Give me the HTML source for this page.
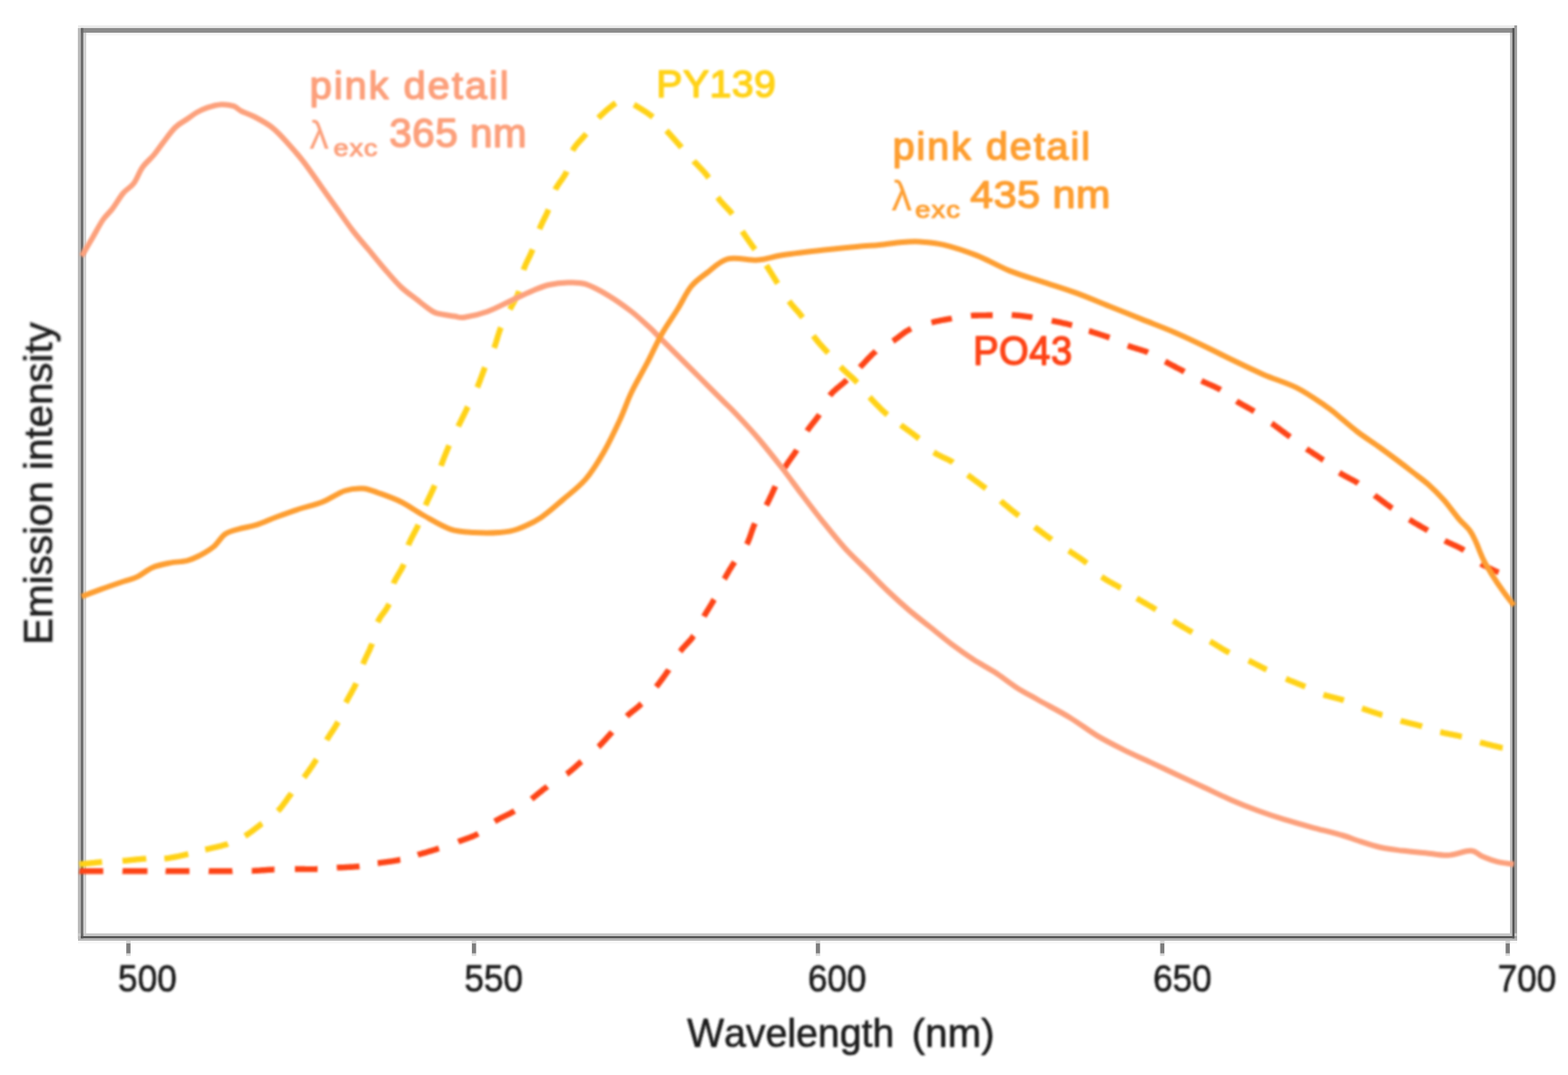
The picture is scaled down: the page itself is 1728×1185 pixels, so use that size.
<!DOCTYPE html>
<html><head><meta charset="utf-8"><title>Emission spectra</title>
<style>
html,body{margin:0;padding:0;background:#fff;}
body{width:1728px;height:1185px;overflow:hidden;}
svg{display:block;}
text{font-family:"Liberation Sans", Arial, Helvetica, sans-serif;font-kerning:none;}
</style></head>
<body>
<svg width="1728" height="1185" viewBox="0 0 1728 1185">
<defs><filter id="b" x="0" y="0" width="1728" height="1185" filterUnits="userSpaceOnUse"><feGaussianBlur stdDeviation="1.1"/></filter></defs>
<rect width="1728" height="1185" fill="#fff"/>
<rect x="86" y="27.8" width="1586" height="3.1" fill="#ebebeb"/>
<rect x="86" y="36.1" width="1586" height="3.1" fill="#f6f6f6"/>
<rect x="85.8" y="31" width="3.2" height="1004" fill="#b8b8b8"/>
<rect x="91.8" y="36" width="3.3" height="995" fill="#d2d2d2"/>
<rect x="1664" y="36" width="2.9" height="995" fill="#c2c2c2"/>
<rect x="1668.8" y="28" width="3.0" height="1010" fill="#9c9c9c"/>
<rect x="86" y="1028.8" width="1586" height="3.1" fill="#c8c8c8"/>
<rect x="86" y="1034.4" width="1586" height="2.6" fill="#b9b9b9"/>
<rect x="86" y="1037" width="1586" height="3" fill="#f7f7f7"/>
<rect x="89.1" y="30.9" width="1579.7" height="5.2" fill="#8c8c8c"/>
<rect x="89.1" y="30.9" width="2.7" height="1003.5" fill="#666"/>
<rect x="1666.6" y="30.9" width="2.4" height="1003.5" fill="#555"/>
<rect x="89.1" y="1031.9" width="1579.7" height="2.5" fill="#555"/>
<rect x="139.00" y="1037" width="5" height="16.6" fill="#d6d6d6"/>
<rect x="139.30" y="1039.9" width="4.4" height="10.9" fill="#7c7c7c"/>
<rect x="519.85" y="1037" width="5" height="16.6" fill="#d6d6d6"/>
<rect x="520.15" y="1039.9" width="4.4" height="10.9" fill="#7c7c7c"/>
<rect x="898.90" y="1037" width="5" height="16.6" fill="#d6d6d6"/>
<rect x="899.20" y="1039.9" width="4.4" height="10.9" fill="#7c7c7c"/>
<rect x="1278.40" y="1037" width="5" height="16.6" fill="#d6d6d6"/>
<rect x="1278.70" y="1039.9" width="4.4" height="10.9" fill="#7c7c7c"/>
<rect x="1659.10" y="1037" width="5" height="16.6" fill="#d6d6d6"/>
<rect x="1659.40" y="1039.9" width="4.4" height="10.9" fill="#7c7c7c"/>
<g filter="url(#b)">
<path d="M87.5,960.2 L88.1,960.3 L88.8,960.2 L89.6,960.2 L90.4,960.3 L91.3,960.2 L92.3,960.2 L93.4,960.2 L94.5,960.3 L95.6,960.2 L96.8,960.2 L98.1,960.3 L99.3,960.2 L100.6,960.2 L101.8,960.2 L103.1,960.2 L104.4,960.2 L105.7,960.2 L106.9,960.2 L108.2,960.2 L109.4,960.2 L110.5,960.2 L111.7,960.2 L112.7,960.2 L113.8,960.2 L113.8,960.2 M135.0,960.2 L136.0,960.3 L137.1,960.2 L138.2,960.2 L139.3,960.3 L140.4,960.2 L141.6,960.2 L142.8,960.2 L144.0,960.3 L145.2,960.2 L146.4,960.2 L147.6,960.3 L148.8,960.2 L150.0,960.2 L151.3,960.2 L152.5,960.2 L153.7,960.2 L154.8,960.2 L156.0,960.2 L157.2,960.2 L158.3,960.2 L159.4,960.2 L160.5,960.2 L161.5,960.2 L162.5,960.2 L162.5,960.2 M182.5,960.2 L183.5,960.3 L184.5,960.2 L185.5,960.2 L186.6,960.3 L187.6,960.2 L188.7,960.2 L189.8,960.2 L191.0,960.3 L192.1,960.2 L193.2,960.2 L194.4,960.3 L195.5,960.2 L196.7,960.2 L197.9,960.2 L199.0,960.2 L200.1,960.2 L201.3,960.2 L202.4,960.2 L203.5,960.2 L204.6,960.2 L205.7,960.2 L206.7,960.2 L207.7,960.2 L208.8,960.2 L208.8,960.2 M230.0,960.2 L231.0,960.3 L232.0,960.3 L233.1,960.3 L234.1,960.3 L235.2,960.3 L236.3,960.3 L237.4,960.3 L238.6,960.3 L239.7,960.3 L240.8,960.3 L242.0,960.3 L243.1,960.3 L244.3,960.3 L245.4,960.3 L246.6,960.3 L247.7,960.3 L248.8,960.3 L249.9,960.3 L251.0,960.3 L252.1,960.3 L253.2,960.3 L254.2,960.3 L255.2,960.3 L256.2,960.2 L256.2,960.2 M277.5,960.0 L278.5,960.0 L279.5,959.9 L280.5,959.9 L281.5,959.8 L282.5,959.8 L283.5,959.7 L284.6,959.6 L285.6,959.6 L286.7,959.5 L287.8,959.4 L288.8,959.3 L289.9,959.3 L291.0,959.2 L292.1,959.1 L293.1,959.0 L294.2,959.0 L295.3,958.9 L296.3,958.8 L297.4,958.8 L298.4,958.7 L299.5,958.6 L300.5,958.6 L301.5,958.5 L302.5,958.5 L302.5,958.5 M325.0,958.0 L326.0,958.0 L327.0,958.0 L328.0,958.0 L329.1,958.0 L330.1,958.0 L331.2,958.0 L332.2,958.0 L333.3,958.0 L334.4,958.0 L335.4,958.0 L336.5,958.1 L337.6,958.1 L338.7,958.1 L339.7,958.1 L340.8,958.1 L341.9,958.1 L342.9,958.1 L344.0,958.1 L345.0,958.1 L346.0,958.1 L347.0,958.1 L348.0,958.1 L349.0,958.0 L350.0,958.0 L350.0,958.0 M371.2,956.5 L372.2,956.4 L373.2,956.4 L374.2,956.3 L375.3,956.3 L376.3,956.2 L377.4,956.2 L378.4,956.1 L379.5,956.1 L380.6,956.0 L381.7,956.0 L382.7,955.9 L383.8,955.9 L384.9,955.8 L386.0,955.8 L387.1,955.7 L388.1,955.6 L389.2,955.6 L390.3,955.5 L391.3,955.4 L392.3,955.4 L393.3,955.3 L394.3,955.2 L395.3,955.1 L396.2,955.0 L396.2,955.0 M416.2,951.5 L417.2,951.4 L418.2,951.2 L419.2,951.1 L420.2,950.9 L421.2,950.8 L422.3,950.6 L423.3,950.5 L424.4,950.3 L425.5,950.2 L426.6,950.1 L427.7,949.9 L428.8,949.8 L429.8,949.6 L430.9,949.5 L432.0,949.3 L433.1,949.2 L434.2,949.0 L435.2,948.8 L436.3,948.7 L437.3,948.5 L438.3,948.3 L439.3,948.1 L440.3,947.9 L441.2,947.8 L441.2,947.8 M460.4,942.3 L461.2,942.0 L462.1,941.7 L463.0,941.5 L464.0,941.2 L464.9,940.9 L465.8,940.7 L466.7,940.4 L467.7,940.1 L468.6,939.9 L469.6,939.6 L470.5,939.3 L471.5,939.0 L472.4,938.7 L473.4,938.5 L474.3,938.2 L475.3,937.9 L476.2,937.6 L477.2,937.3 L478.2,937.0 L479.1,936.7 L480.0,936.4 L481.0,936.1 L481.9,935.8 L482.8,935.5 L483.8,935.2 L483.8,935.2 M505.0,927.8 L505.9,927.4 L506.8,927.1 L507.7,926.8 L508.7,926.4 L509.6,926.1 L510.5,925.8 L511.5,925.4 L512.4,925.1 L513.3,924.8 L514.3,924.5 L515.2,924.1 L516.1,923.8 L517.1,923.4 L518.0,923.1 L518.9,922.7 L519.9,922.4 L520.8,922.0 L521.7,921.6 L522.6,921.2 L523.5,920.8 L524.4,920.4 L525.3,919.9 L526.1,919.5 L527.0,919.0 L527.0,919.0 M545.2,905.5 L546.0,905.0 L546.8,904.5 L547.7,904.0 L548.5,903.5 L549.4,903.0 L550.3,902.6 L551.2,902.1 L552.0,901.6 L552.9,901.2 L553.8,900.8 L554.7,900.3 L555.6,899.9 L556.5,899.5 L557.4,899.0 L558.3,898.6 L559.2,898.2 L560.1,897.7 L561.0,897.3 L561.9,896.8 L562.7,896.4 L563.6,895.9 L564.5,895.5 L565.3,895.0 L566.2,894.5 L567.0,894.0 L567.0,894.0 M585.8,880.8 L586.5,880.2 L587.2,879.6 L588.0,879.1 L588.7,878.5 L589.4,877.9 L590.1,877.3 L590.8,876.8 L591.5,876.2 L592.2,875.6 L592.9,875.1 L593.6,874.5 L594.3,873.9 L595.0,873.3 L595.8,872.8 L596.5,872.2 L597.2,871.6 L597.9,871.0 L598.6,870.4 L599.4,869.9 L600.1,869.3 L600.9,868.7 L601.7,868.1 L602.5,867.6 L603.2,867.0 L603.2,867.0 M624.5,853.2 L625.3,852.7 L626.0,852.1 L626.8,851.5 L627.5,851.0 L628.2,850.4 L628.9,849.9 L629.5,849.3 L630.2,848.8 L630.9,848.2 L631.5,847.6 L632.1,847.1 L632.8,846.5 L633.4,846.0 L634.1,845.4 L634.7,844.8 L635.3,844.3 L636.0,843.7 L636.6,843.1 L637.3,842.5 L638.0,841.9 L638.6,841.3 L639.3,840.7 L640.0,840.1 L640.8,839.5 L640.8,839.5 M659.5,823.2 L660.2,822.6 L660.9,821.9 L661.5,821.2 L662.2,820.6 L662.8,819.9 L663.5,819.2 L664.1,818.5 L664.7,817.9 L665.3,817.2 L666.0,816.5 L666.6,815.9 L667.2,815.2 L667.8,814.5 L668.4,813.9 L668.9,813.2 L669.5,812.5 L670.1,811.8 L670.8,811.2 L671.4,810.5 L672.0,809.8 L672.6,809.1 L673.2,808.4 L673.9,807.7 L674.5,807.0 L674.5,807.0 M690.8,789.5 L691.4,788.9 L692.1,788.2 L692.8,787.6 L693.5,787.0 L694.1,786.5 L694.8,785.9 L695.5,785.4 L696.2,784.8 L696.8,784.3 L697.5,783.8 L698.2,783.2 L698.9,782.7 L699.6,782.2 L700.2,781.6 L700.9,781.1 L701.6,780.6 L702.3,780.0 L702.9,779.5 L703.6,778.9 L704.3,778.3 L705.0,777.7 L705.6,777.1 L706.3,776.4 L707.0,775.8 L707.0,775.8 M723.2,757.0 L723.9,756.2 L724.5,755.4 L725.1,754.7 L725.7,753.9 L726.3,753.1 L726.9,752.3 L727.5,751.6 L728.1,750.8 L728.6,750.0 L729.2,749.3 L729.8,748.5 L730.4,747.7 L730.9,746.9 L731.5,746.2 L732.0,745.4 L732.6,744.6 L733.2,743.8 L733.7,743.0 L734.3,742.2 L734.8,741.4 L735.4,740.7 L735.9,739.9 L736.5,739.1 L737.0,738.2 L737.0,738.2 M749.5,718.2 L750.1,717.5 L750.7,716.7 L751.3,716.0 L751.9,715.2 L752.5,714.5 L753.2,713.8 L753.8,713.1 L754.5,712.4 L755.1,711.7 L755.8,711.0 L756.4,710.3 L757.1,709.6 L757.7,708.9 L758.4,708.2 L759.0,707.5 L759.7,706.8 L760.3,706.1 L761.0,705.3 L761.6,704.6 L762.2,703.9 L762.8,703.1 L763.4,702.3 L763.9,701.5 L764.5,700.8 L764.5,700.8 M775.8,679.5 L776.2,678.7 L776.7,677.9 L777.2,677.1 L777.6,676.3 L778.1,675.5 L778.6,674.7 L779.0,674.0 L779.5,673.2 L780.0,672.5 L780.4,671.7 L780.9,671.0 L781.4,670.2 L781.8,669.5 L782.3,668.7 L782.8,667.9 L783.2,667.2 L783.7,666.4 L784.2,665.6 L784.7,664.9 L785.1,664.1 L785.6,663.3 L786.1,662.4 L786.5,661.6 L787.0,660.8 L787.0,660.8 M798.2,638.2 L798.7,637.4 L799.2,636.6 L799.6,635.7 L800.1,634.9 L800.6,634.1 L801.0,633.3 L801.5,632.5 L801.9,631.8 L802.4,631.0 L802.8,630.2 L803.3,629.4 L803.7,628.7 L804.2,627.9 L804.7,627.2 L805.1,626.4 L805.6,625.7 L806.1,624.9 L806.5,624.2 L807.0,623.4 L807.5,622.6 L808.0,621.9 L808.5,621.1 L809.0,620.3 L809.5,619.5 L809.5,619.5 M823.0,600.0 L823.5,599.1 L823.9,598.2 L824.3,597.3 L824.7,596.3 L825.1,595.4 L825.5,594.4 L825.8,593.5 L826.2,592.5 L826.6,591.5 L826.9,590.5 L827.2,589.5 L827.6,588.5 L827.9,587.5 L828.2,586.5 L828.6,585.6 L828.9,584.6 L829.3,583.6 L829.6,582.6 L830.0,581.7 L830.3,580.7 L830.7,579.8 L831.1,578.8 L831.6,577.9 L832.0,577.0 L832.0,577.0 M844.5,557.0 L845.0,556.1 L845.4,555.3 L845.9,554.4 L846.3,553.5 L846.7,552.7 L847.2,551.8 L847.6,550.9 L848.0,550.0 L848.4,549.2 L848.8,548.3 L849.3,547.4 L849.7,546.5 L850.1,545.6 L850.5,544.7 L850.9,543.8 L851.3,543.0 L851.7,542.1 L852.1,541.2 L852.5,540.3 L852.9,539.5 L853.3,538.6 L853.7,537.7 L854.1,536.9 L854.5,536.0 L854.5,536.0 M864.5,516.0 L865.0,515.2 L865.5,514.3 L866.0,513.5 L866.6,512.7 L867.1,511.9 L867.7,511.0 L868.2,510.2 L868.8,509.4 L869.4,508.5 L870.0,507.7 L870.6,506.9 L871.2,506.1 L871.7,505.2 L872.3,504.4 L872.9,503.6 L873.5,502.7 L874.1,501.9 L874.7,501.1 L875.3,500.2 L875.8,499.4 L876.4,498.5 L876.9,497.7 L877.5,496.9 L878.0,496.0 L878.0,496.0 M889.5,475.0 L890.0,474.2 L890.6,473.4 L891.1,472.6 L891.7,471.9 L892.2,471.1 L892.8,470.4 L893.4,469.6 L893.9,468.9 L894.5,468.2 L895.1,467.4 L895.7,466.7 L896.2,466.0 L896.8,465.3 L897.4,464.6 L898.0,463.8 L898.6,463.1 L899.1,462.4 L899.7,461.6 L900.3,460.9 L900.8,460.1 L901.4,459.4 L901.9,458.6 L902.5,457.8 L903.0,457.0 L903.0,457.0 M914.5,436.0 L915.1,435.2 L915.8,434.5 L916.4,433.8 L917.1,433.0 L917.8,432.3 L918.5,431.6 L919.2,430.9 L920.0,430.3 L920.7,429.6 L921.5,428.9 L922.2,428.3 L923.0,427.6 L923.8,427.0 L924.5,426.4 L925.3,425.7 L926.1,425.1 L926.8,424.5 L927.6,423.8 L928.4,423.2 L929.1,422.6 L929.9,421.9 L930.6,421.3 L931.3,420.6 L932.0,420.0 L932.7,419.4 L933.4,418.7 L933.4,418.7 M947.8,404.8 L948.4,404.1 L949.1,403.4 L949.8,402.6 L950.6,401.9 L951.3,401.1 L952.0,400.4 L952.7,399.6 L953.4,398.9 L954.1,398.1 L954.9,397.3 L955.6,396.5 L956.3,395.8 L957.0,395.0 L957.8,394.2 L958.5,393.5 L959.3,392.7 L960.0,392.0 L960.7,391.2 L961.5,390.5 L962.2,389.8 L963.0,389.2 L963.7,388.5 L964.5,387.9 L965.2,387.2 L965.2,387.2 M984.0,376.0 L984.8,375.5 L985.6,374.9 L986.4,374.4 L987.2,373.8 L988.0,373.2 L988.9,372.6 L989.7,372.0 L990.5,371.3 L991.3,370.7 L992.1,370.1 L992.9,369.5 L993.8,368.8 L994.6,368.2 L995.4,367.6 L996.3,367.0 L997.1,366.4 L997.9,365.8 L998.8,365.3 L999.6,364.7 L1000.5,364.2 L1001.4,363.7 L1002.2,363.2 L1003.1,362.7 L1004.0,362.2 L1004.0,362.2 M1026.5,355.5 L1027.4,355.3 L1028.4,355.0 L1029.3,354.8 L1030.3,354.6 L1031.2,354.4 L1032.2,354.2 L1033.1,354.0 L1034.1,353.8 L1035.0,353.6 L1036.0,353.4 L1036.9,353.2 L1037.8,353.0 L1038.8,352.8 L1039.7,352.7 L1040.7,352.5 L1041.6,352.3 L1042.5,352.1 L1043.5,352.0 L1044.4,351.8 L1045.3,351.6 L1046.3,351.5 L1047.2,351.3 L1048.1,351.2 L1049.0,351.0 L1049.0,351.0 M1070.0,348.0 L1070.9,347.9 L1071.9,347.9 L1072.9,347.8 L1073.9,347.8 L1074.9,347.7 L1075.9,347.7 L1076.9,347.7 L1077.9,347.6 L1078.9,347.6 L1079.9,347.6 L1081.0,347.6 L1082.0,347.6 L1083.0,347.6 L1084.1,347.6 L1085.1,347.6 L1086.1,347.6 L1087.1,347.6 L1088.1,347.5 L1089.1,347.5 L1090.1,347.5 L1091.1,347.5 L1092.1,347.5 L1093.1,347.5 L1094.0,347.5 L1094.0,347.5 M1115.0,347.2 L1115.9,347.3 L1116.8,347.4 L1117.8,347.4 L1118.7,347.5 L1119.7,347.6 L1120.6,347.7 L1121.6,347.7 L1122.5,347.8 L1123.5,347.9 L1124.4,348.0 L1125.4,348.1 L1126.4,348.2 L1127.3,348.4 L1128.3,348.5 L1129.3,348.6 L1130.2,348.7 L1131.2,348.8 L1132.1,349.0 L1133.1,349.1 L1134.0,349.2 L1135.0,349.4 L1135.9,349.5 L1136.8,349.6 L1137.8,349.8 L1137.8,349.8 M1159.0,353.5 L1159.9,353.7 L1160.8,353.9 L1161.8,354.1 L1162.7,354.2 L1163.7,354.4 L1164.6,354.6 L1165.6,354.8 L1166.6,355.0 L1167.5,355.2 L1168.5,355.4 L1169.5,355.6 L1170.4,355.8 L1171.4,356.1 L1172.3,356.3 L1173.3,356.5 L1174.2,356.7 L1175.2,356.9 L1176.1,357.1 L1177.1,357.4 L1178.0,357.6 L1178.9,357.8 L1179.8,358.0 L1180.6,358.3 L1181.5,358.5 L1181.5,358.5 M1200.0,364.8 L1200.9,365.0 L1201.8,365.3 L1202.7,365.6 L1203.6,365.9 L1204.5,366.2 L1205.5,366.5 L1206.4,366.8 L1207.4,367.1 L1208.3,367.4 L1209.3,367.7 L1210.3,368.0 L1211.3,368.3 L1212.3,368.7 L1213.3,369.0 L1214.2,369.3 L1215.2,369.6 L1216.2,369.9 L1217.2,370.3 L1218.1,370.6 L1219.1,370.9 L1220.0,371.2 L1220.9,371.6 L1221.9,371.9 L1222.8,372.2 L1222.8,372.2 M1242.8,381.0 L1243.6,381.3 L1244.5,381.7 L1245.5,382.0 L1246.4,382.3 L1247.3,382.6 L1248.3,382.9 L1249.2,383.2 L1250.2,383.5 L1251.2,383.8 L1252.1,384.1 L1253.1,384.4 L1254.1,384.7 L1255.0,385.0 L1256.0,385.3 L1257.0,385.6 L1257.9,385.9 L1258.9,386.2 L1259.8,386.5 L1260.8,386.8 L1261.7,387.1 L1262.6,387.5 L1263.5,387.8 L1264.4,388.1 L1265.2,388.5 L1265.2,388.5 M1284.0,398.5 L1284.8,398.9 L1285.7,399.4 L1286.6,399.9 L1287.4,400.3 L1288.3,400.8 L1289.2,401.3 L1290.1,401.7 L1291.0,402.2 L1291.9,402.7 L1292.8,403.2 L1293.7,403.6 L1294.6,404.1 L1295.5,404.6 L1296.4,405.1 L1297.4,405.6 L1298.3,406.0 L1299.2,406.5 L1300.1,407.0 L1300.9,407.5 L1301.8,407.9 L1302.7,408.4 L1303.6,408.9 L1304.4,409.3 L1305.2,409.8 L1305.2,409.8 M1324.0,419.8 L1324.8,420.2 L1325.7,420.6 L1326.6,421.0 L1327.4,421.4 L1328.3,421.8 L1329.2,422.2 L1330.1,422.6 L1331.0,423.0 L1332.0,423.4 L1332.9,423.8 L1333.8,424.2 L1334.7,424.6 L1335.6,425.0 L1336.5,425.4 L1337.4,425.8 L1338.4,426.2 L1339.3,426.7 L1340.1,427.1 L1341.0,427.5 L1341.9,427.9 L1342.8,428.4 L1343.6,428.8 L1344.4,429.3 L1345.2,429.8 L1345.2,429.8 M1362.8,442.2 L1363.5,442.7 L1364.3,443.2 L1365.1,443.7 L1365.9,444.2 L1366.7,444.6 L1367.5,445.1 L1368.3,445.5 L1369.1,446.0 L1369.9,446.5 L1370.7,446.9 L1371.5,447.3 L1372.3,447.8 L1373.2,448.2 L1374.0,448.7 L1374.8,449.2 L1375.6,449.6 L1376.5,450.1 L1377.3,450.5 L1378.1,451.0 L1378.9,451.5 L1379.8,452.0 L1380.6,452.5 L1381.4,453.0 L1382.2,453.5 L1382.2,453.5 M1401.4,466.7 L1402.2,467.2 L1403.1,467.8 L1403.9,468.4 L1404.7,469.0 L1405.4,469.5 L1406.2,470.1 L1407.0,470.7 L1407.8,471.3 L1408.6,471.8 L1409.4,472.4 L1410.2,473.0 L1410.9,473.6 L1411.7,474.1 L1412.5,474.7 L1413.3,475.3 L1414.0,475.8 L1414.8,476.4 L1415.6,477.0 L1416.3,477.6 L1417.1,478.1 L1417.9,478.7 L1418.7,479.3 L1419.4,479.9 L1420.2,480.4 L1421.0,481.0 L1421.8,481.6 L1421.8,481.6 M1439.8,494.8 L1440.5,495.3 L1441.3,495.8 L1442.1,496.4 L1442.9,496.9 L1443.7,497.4 L1444.5,497.9 L1445.3,498.4 L1446.0,499.0 L1446.8,499.5 L1447.6,500.0 L1448.4,500.5 L1449.2,501.0 L1450.0,501.5 L1450.8,502.0 L1451.6,502.5 L1452.3,503.0 L1453.1,503.6 L1453.9,504.1 L1454.7,504.6 L1455.4,505.1 L1456.2,505.6 L1457.0,506.2 L1457.7,506.7 L1458.5,507.2 L1458.5,507.2 M1476.0,521.0 L1476.8,521.5 L1477.6,522.0 L1478.4,522.5 L1479.2,523.0 L1480.0,523.5 L1480.9,523.9 L1481.7,524.4 L1482.5,524.8 L1483.4,525.3 L1484.2,525.7 L1485.1,526.2 L1485.9,526.6 L1486.8,527.1 L1487.6,527.5 L1488.5,528.0 L1489.3,528.4 L1490.2,528.9 L1491.0,529.3 L1491.9,529.8 L1492.7,530.3 L1493.5,530.7 L1494.4,531.2 L1495.2,531.7 L1496.0,532.2 L1496.8,532.8 L1496.8,532.8 M1514.8,546.0 L1515.5,546.6 L1516.3,547.1 L1517.1,547.7 L1517.9,548.3 L1518.7,548.9 L1519.4,549.5 L1520.2,550.0 L1521.0,550.6 L1521.8,551.2 L1522.6,551.8 L1523.3,552.4 L1524.1,553.0 L1524.9,553.5 L1525.7,554.1 L1526.5,554.7 L1527.2,555.3 L1528.0,555.8 L1528.8,556.4 L1529.6,557.0 L1530.4,557.5 L1531.2,558.1 L1531.9,558.6 L1532.7,559.2 L1533.5,559.8 L1534.3,560.3 L1534.3,560.3 M1553.1,572.8 L1553.9,573.3 L1554.8,573.8 L1555.7,574.3 L1556.6,574.9 L1557.4,575.4 L1558.3,575.9 L1559.2,576.5 L1560.1,577.0 L1561.1,577.5 L1562.0,578.1 L1562.9,578.6 L1563.8,579.1 L1564.7,579.6 L1565.6,580.2 L1566.5,580.7 L1567.4,581.2 L1568.3,581.7 L1569.2,582.2 L1570.1,582.7 L1570.9,583.2 L1571.8,583.8 L1572.7,584.3 L1573.5,584.8 L1573.5,584.8 M1592.2,596.0 L1593.1,596.5 L1593.9,596.9 L1594.8,597.3 L1595.7,597.8 L1596.6,598.2 L1597.5,598.6 L1598.3,599.0 L1599.3,599.4 L1600.2,599.8 L1601.1,600.3 L1602.0,600.7 L1602.9,601.1 L1603.8,601.5 L1604.7,601.9 L1605.6,602.3 L1606.5,602.8 L1607.4,603.2 L1608.3,603.7 L1609.2,604.1 L1610.1,604.6 L1611.0,605.1 L1611.8,605.6 L1612.7,606.1 L1613.5,606.6 L1613.5,606.6 M1632.0,621.4 L1632.9,622.0 L1633.9,622.5 L1634.9,623.1 L1636.0,623.7 L1637.1,624.2 L1638.2,624.8 L1639.3,625.4 L1640.5,625.9 L1641.7,626.5 L1642.8,627.0 L1644.0,627.6 L1645.2,628.1 L1646.3,628.6 L1647.4,629.2 L1648.5,629.6 L1649.6,630.1 L1650.6,630.6 L1651.6,631.0 L1651.6,631.0" fill="none" stroke="#fd4416" stroke-width="6.4"/>
<path d="M87.5,952.8 L88.1,952.7 L88.7,952.6 L89.4,952.5 L90.2,952.5 L91.1,952.4 L92.1,952.3 L93.0,952.2 L94.1,952.1 L95.2,951.9 L96.3,951.8 L97.4,951.7 L98.6,951.6 L99.8,951.5 L101.0,951.3 L102.2,951.2 L103.4,951.1 L104.6,951.0 L105.8,950.8 L107.0,950.7 L108.2,950.6 L109.3,950.5 L110.4,950.4 L111.5,950.3 L112.5,950.2 L112.5,950.2 M135.0,949.0 L136.0,948.9 L137.1,948.8 L138.1,948.7 L139.2,948.6 L140.3,948.5 L141.4,948.4 L142.6,948.3 L143.7,948.2 L144.8,948.0 L146.0,947.9 L147.1,947.8 L148.3,947.7 L149.4,947.5 L150.6,947.4 L151.7,947.3 L152.8,947.2 L153.9,947.1 L155.0,947.0 L156.1,946.9 L157.2,946.8 L158.2,946.7 L159.3,946.6 L160.3,946.6 L161.2,946.5 L161.2,946.5 M181.2,946.5 L182.2,946.4 L183.2,946.3 L184.3,946.1 L185.4,946.0 L186.4,945.8 L187.5,945.6 L188.7,945.4 L189.8,945.2 L191.0,945.0 L192.1,944.8 L193.3,944.5 L194.5,944.3 L195.6,944.1 L196.8,943.8 L197.9,943.6 L199.1,943.4 L200.2,943.1 L201.3,942.9 L202.4,942.6 L203.5,942.4 L204.5,942.2 L205.6,941.9 L206.5,941.7 L207.5,941.5 L207.5,941.5 M226.2,936.5 L227.2,936.3 L228.1,936.0 L229.1,935.8 L230.1,935.6 L231.2,935.3 L232.2,935.1 L233.3,934.8 L234.4,934.6 L235.4,934.4 L236.5,934.1 L237.6,933.9 L238.8,933.6 L239.9,933.4 L241.0,933.1 L242.1,932.8 L243.1,932.6 L244.2,932.3 L245.3,932.0 L246.3,931.7 L247.4,931.5 L248.4,931.2 L249.4,930.9 L250.3,930.6 L251.2,930.2 L251.2,930.2 M270.0,921.5 L270.8,921.0 L271.6,920.5 L272.4,920.0 L273.1,919.5 L273.9,919.0 L274.7,918.4 L275.5,917.9 L276.3,917.3 L277.1,916.7 L277.9,916.1 L278.7,915.5 L279.5,914.9 L280.2,914.3 L281.0,913.7 L281.8,913.1 L282.6,912.5 L283.4,911.9 L284.2,911.3 L284.9,910.7 L285.7,910.1 L286.5,909.5 L287.2,908.9 L288.0,908.3 L288.8,907.8 L288.8,907.8 M306.2,894.0 L306.9,893.3 L307.6,892.6 L308.3,891.8 L308.9,891.1 L309.6,890.3 L310.2,889.5 L310.8,888.7 L311.5,887.9 L312.1,887.0 L312.7,886.2 L313.4,885.3 L314.0,884.5 L314.6,883.6 L315.2,882.8 L315.8,881.9 L316.4,881.1 L317.0,880.2 L317.6,879.4 L318.2,878.5 L318.9,877.7 L319.5,876.9 L320.1,876.1 L320.7,875.3 L321.2,874.5 L321.2,874.5 M335.0,857.0 L335.6,856.2 L336.2,855.4 L336.7,854.6 L337.3,853.8 L337.9,853.0 L338.5,852.2 L339.1,851.4 L339.7,850.6 L340.3,849.7 L340.9,848.9 L341.4,848.1 L342.0,847.2 L342.6,846.4 L343.2,845.5 L343.8,844.7 L344.4,843.9 L344.9,843.0 L345.5,842.1 L346.0,841.3 L346.6,840.4 L347.2,839.6 L347.7,838.7 L348.2,837.9 L348.8,837.0 L348.8,837.0 M360.0,815.8 L360.5,814.9 L361.0,814.0 L361.5,813.2 L362.1,812.4 L362.6,811.5 L363.1,810.7 L363.7,809.9 L364.2,809.0 L364.8,808.2 L365.3,807.4 L365.9,806.6 L366.4,805.8 L367.0,804.9 L367.5,804.1 L368.0,803.3 L368.6,802.5 L369.1,801.6 L369.6,800.8 L370.1,800.0 L370.6,799.1 L371.1,798.3 L371.6,797.5 L372.0,796.6 L372.5,795.8 L372.5,795.8 M381.2,774.5 L381.7,773.6 L382.1,772.7 L382.6,771.8 L383.0,771.0 L383.5,770.1 L384.0,769.2 L384.5,768.3 L385.0,767.4 L385.5,766.5 L386.0,765.6 L386.5,764.8 L387.0,763.9 L387.5,763.0 L388.0,762.1 L388.4,761.2 L388.9,760.3 L389.4,759.4 L389.9,758.6 L390.4,757.7 L390.8,756.8 L391.3,755.9 L391.7,755.0 L392.1,754.1 L392.5,753.2 L392.5,753.2 M400.0,732.0 L400.4,731.1 L400.8,730.2 L401.2,729.3 L401.6,728.3 L402.0,727.4 L402.4,726.5 L402.8,725.6 L403.3,724.6 L403.7,723.7 L404.2,722.8 L404.6,721.8 L405.1,720.9 L405.5,720.0 L406.0,719.0 L406.4,718.1 L406.9,717.1 L407.3,716.2 L407.7,715.2 L408.1,714.3 L408.5,713.3 L408.9,712.4 L409.3,711.4 L409.7,710.5 L410.0,709.5 L410.0,709.5 M416.2,685.8 L416.7,684.8 L417.1,684.0 L417.6,683.1 L418.1,682.2 L418.6,681.4 L419.1,680.5 L419.7,679.7 L420.2,678.9 L420.8,678.1 L421.4,677.3 L422.0,676.5 L422.6,675.7 L423.2,674.9 L423.8,674.1 L424.3,673.3 L424.9,672.5 L425.5,671.7 L426.0,670.8 L426.5,670.0 L427.0,669.2 L427.5,668.3 L428.0,667.5 L428.4,666.6 L428.8,665.8 L428.8,665.8 M433.8,643.2 L434.1,642.3 L434.5,641.4 L434.9,640.5 L435.3,639.6 L435.8,638.7 L436.3,637.8 L436.8,637.0 L437.3,636.1 L437.8,635.2 L438.3,634.3 L438.8,633.4 L439.4,632.5 L439.9,631.7 L440.4,630.8 L441.0,629.9 L441.5,629.0 L442.0,628.1 L442.5,627.3 L443.0,626.4 L443.4,625.5 L443.9,624.6 L444.3,623.8 L444.6,622.9 L445.0,622.0 L445.0,622.0 M450.0,601.0 L450.3,600.1 L450.7,599.2 L451.1,598.3 L451.5,597.3 L452.0,596.4 L452.4,595.5 L452.9,594.5 L453.3,593.6 L453.8,592.6 L454.3,591.7 L454.8,590.7 L455.3,589.8 L455.8,588.8 L456.3,587.9 L456.8,586.9 L457.3,586.0 L457.8,585.0 L458.3,584.1 L458.8,583.1 L459.3,582.2 L459.7,581.3 L460.2,580.3 L460.6,579.4 L461.0,578.5 L461.0,578.5 M469.0,557.0 L469.4,556.1 L469.8,555.2 L470.2,554.3 L470.6,553.4 L471.0,552.4 L471.4,551.5 L471.9,550.6 L472.3,549.7 L472.7,548.8 L473.2,547.8 L473.6,546.9 L474.1,546.0 L474.5,545.1 L474.9,544.2 L475.4,543.2 L475.8,542.3 L476.2,541.4 L476.7,540.5 L477.1,539.6 L477.5,538.6 L477.9,537.7 L478.3,536.8 L478.6,535.9 L479.0,535.0 L479.0,535.0 M486.0,513.5 L486.3,512.6 L486.7,511.7 L487.0,510.7 L487.4,509.8 L487.7,508.9 L488.1,507.9 L488.4,507.0 L488.8,506.0 L489.2,505.1 L489.6,504.1 L489.9,503.2 L490.3,502.2 L490.7,501.3 L491.1,500.3 L491.5,499.4 L491.9,498.4 L492.2,497.5 L492.6,496.5 L493.0,495.6 L493.4,494.7 L493.8,493.7 L494.2,492.8 L494.6,491.9 L495.0,491.0 L495.0,491.0 M505.0,470.0 L505.4,469.1 L505.9,468.2 L506.3,467.2 L506.8,466.3 L507.2,465.4 L507.7,464.4 L508.2,463.5 L508.6,462.5 L509.1,461.6 L509.6,460.6 L510.0,459.7 L510.5,458.7 L511.0,457.8 L511.4,456.8 L511.9,455.9 L512.4,454.9 L512.8,454.0 L513.3,453.0 L513.8,452.1 L514.2,451.2 L514.7,450.2 L515.1,449.3 L515.6,448.4 L515.6,448.4 M526.0,427.0 L526.4,426.1 L526.8,425.2 L527.1,424.3 L527.5,423.4 L527.8,422.5 L528.2,421.6 L528.5,420.7 L528.9,419.8 L529.2,418.8 L529.6,417.9 L529.9,417.0 L530.2,416.1 L530.6,415.1 L530.9,414.2 L531.3,413.3 L531.6,412.4 L532.0,411.4 L532.3,410.5 L532.7,409.6 L533.0,408.7 L533.4,407.7 L533.7,406.8 L534.1,405.9 L534.5,405.0 L534.5,405.0 M544.5,383.5 L544.9,382.6 L545.2,381.7 L545.5,380.7 L545.9,379.8 L546.2,378.8 L546.5,377.9 L546.8,376.9 L547.1,376.0 L547.4,375.0 L547.7,374.1 L548.0,373.1 L548.2,372.2 L548.5,371.2 L548.8,370.2 L549.1,369.3 L549.4,368.4 L549.7,367.4 L550.0,366.5 L550.3,365.5 L550.6,364.6 L551.0,363.7 L551.3,362.8 L551.6,361.9 L552.0,361.0 L552.0,361.0 M562.0,341.0 L562.4,340.2 L562.8,339.3 L563.3,338.5 L563.7,337.7 L564.2,336.9 L564.6,336.1 L565.1,335.3 L565.5,334.5 L566.0,333.7 L566.4,332.8 L566.9,332.0 L567.3,331.2 L567.8,330.4 L568.2,329.6 L568.6,328.8 L569.0,327.9 L569.4,327.1 L569.9,326.2 L570.2,325.4 L570.6,324.5 L571.0,323.7 L571.3,322.8 L571.7,321.9 L572.0,321.0 L572.0,321.0 M577.0,297.5 L577.3,296.5 L577.7,295.6 L578.0,294.6 L578.4,293.7 L578.8,292.7 L579.2,291.8 L579.6,290.9 L580.1,289.9 L580.5,289.0 L580.9,288.1 L581.4,287.1 L581.8,286.2 L582.3,285.3 L582.8,284.3 L583.2,283.4 L583.7,282.5 L584.1,281.5 L584.6,280.6 L585.0,279.7 L585.4,278.7 L585.8,277.8 L586.2,276.9 L586.6,275.9 L587.0,275.0 L587.0,275.0 M594.5,252.5 L594.9,251.6 L595.3,250.7 L595.6,249.8 L596.1,248.9 L596.5,248.0 L596.9,247.1 L597.3,246.2 L597.7,245.3 L598.2,244.4 L598.6,243.5 L599.1,242.6 L599.5,241.7 L599.9,240.8 L600.4,239.9 L600.8,239.1 L601.3,238.2 L601.7,237.3 L602.1,236.4 L602.5,235.5 L602.9,234.6 L603.4,233.7 L603.7,232.8 L604.1,231.9 L604.5,231.0 L604.5,231.0 M612.0,209.0 L612.4,208.1 L612.9,207.3 L613.4,206.4 L613.9,205.6 L614.4,204.8 L614.9,203.9 L615.5,203.1 L616.0,202.3 L616.6,201.5 L617.2,200.7 L617.7,199.9 L618.3,199.1 L618.9,198.3 L619.5,197.4 L620.0,196.6 L620.6,195.8 L621.1,195.0 L621.7,194.2 L622.2,193.3 L622.7,192.5 L623.2,191.6 L623.7,190.8 L624.1,189.9 L624.5,189.0 L624.5,189.0 M631.0,166.0 L631.5,165.1 L632.0,164.3 L632.5,163.5 L633.0,162.6 L633.6,161.8 L634.2,161.0 L634.8,160.2 L635.4,159.5 L636.1,158.7 L636.7,157.9 L637.4,157.2 L638.1,156.4 L638.7,155.7 L639.4,154.9 L640.1,154.2 L640.8,153.4 L641.5,152.7 L642.2,151.9 L642.8,151.2 L643.5,150.5 L644.1,149.7 L644.8,149.0 L645.4,148.2 L646.0,147.5 L646.0,147.5 M659.5,130.0 L660.2,129.3 L660.9,128.6 L661.6,127.8 L662.4,127.1 L663.2,126.3 L664.0,125.6 L664.8,124.8 L665.6,124.1 L666.4,123.3 L667.3,122.6 L668.1,121.8 L669.0,121.1 L669.8,120.4 L670.6,119.7 L671.5,119.0 L672.3,118.3 L673.1,117.7 L673.9,117.1 L674.6,116.5 L675.4,115.9 L676.1,115.4 L676.7,114.9 L677.4,114.4 L678.0,114.0 L678.6,113.6 L678.6,113.6 M698.7,115.4 L699.4,115.8 L700.2,116.3 L701.0,116.7 L701.8,117.2 L702.7,117.8 L703.6,118.3 L704.6,118.9 L705.5,119.5 L706.5,120.1 L707.5,120.7 L708.4,121.3 L709.4,121.9 L710.4,122.6 L711.4,123.2 L712.4,123.9 L713.4,124.5 L714.3,125.2 L715.2,125.8 L716.2,126.5 L717.0,127.1 L717.9,127.8 L718.7,128.4 L719.5,129.0 L719.5,129.0 M734.5,144.0 L735.2,144.7 L735.8,145.4 L736.5,146.2 L737.2,146.9 L737.9,147.7 L738.6,148.5 L739.3,149.2 L740.0,150.0 L740.7,150.8 L741.4,151.6 L742.1,152.4 L742.8,153.2 L743.6,154.1 L744.3,154.9 L745.0,155.7 L745.7,156.5 L746.4,157.3 L747.1,158.0 L747.7,158.8 L748.4,159.6 L749.1,160.3 L749.7,161.1 L750.4,161.8 L751.0,162.5 L751.0,162.5 M764.5,177.5 L765.1,178.2 L765.8,178.9 L766.5,179.6 L767.2,180.3 L767.9,181.1 L768.6,181.8 L769.3,182.5 L770.0,183.3 L770.8,184.0 L771.5,184.8 L772.2,185.6 L773.0,186.3 L773.7,187.1 L774.4,187.9 L775.2,188.7 L775.9,189.5 L776.6,190.3 L777.3,191.1 L777.9,191.9 L778.6,192.7 L779.2,193.5 L779.8,194.3 L780.4,195.2 L781.0,196.0 L781.0,196.0 M791.0,217.5 L791.6,218.3 L792.1,219.1 L792.7,220.0 L793.4,220.8 L794.0,221.5 L794.7,222.3 L795.4,223.1 L796.1,223.9 L796.8,224.6 L797.5,225.4 L798.2,226.2 L798.9,226.9 L799.7,227.7 L800.4,228.4 L801.1,229.2 L801.8,229.9 L802.5,230.7 L803.2,231.4 L803.9,232.2 L804.6,232.9 L805.2,233.7 L805.8,234.5 L806.4,235.2 L807.0,236.0 L807.0,236.0 M818.0,255.0 L818.5,255.8 L819.1,256.6 L819.6,257.5 L820.2,258.3 L820.7,259.1 L821.3,260.0 L821.9,260.8 L822.5,261.7 L823.1,262.5 L823.7,263.4 L824.3,264.2 L824.9,265.1 L825.5,265.9 L826.1,266.8 L826.7,267.6 L827.3,268.5 L827.9,269.3 L828.5,270.2 L829.1,271.0 L829.7,271.8 L830.3,272.6 L830.9,273.4 L831.4,274.2 L832.0,275.0 L832.0,275.0 M844.5,292.5 L845.0,293.3 L845.5,294.1 L846.1,294.9 L846.6,295.7 L847.1,296.5 L847.6,297.3 L848.1,298.2 L848.7,299.0 L849.2,299.8 L849.7,300.7 L850.2,301.5 L850.8,302.4 L851.3,303.2 L851.8,304.1 L852.3,304.9 L852.8,305.8 L853.4,306.6 L853.9,307.5 L854.4,308.3 L854.9,309.2 L855.4,310.0 L856.0,310.8 L856.5,311.7 L857.0,312.5 L857.0,312.5 M869.5,332.0 L870.1,332.8 L870.7,333.5 L871.3,334.3 L871.9,335.1 L872.5,335.8 L873.1,336.5 L873.8,337.3 L874.4,338.0 L875.1,338.7 L875.7,339.5 L876.3,340.2 L877.0,340.9 L877.7,341.6 L878.3,342.4 L878.9,343.1 L879.6,343.8 L880.2,344.6 L880.9,345.3 L881.5,346.1 L882.1,346.8 L882.7,347.6 L883.3,348.4 L883.9,349.2 L884.5,350.0 L884.5,350.0 M896.4,370.2 L897.0,371.0 L897.6,371.8 L898.2,372.6 L898.8,373.4 L899.4,374.1 L900.0,374.9 L900.6,375.6 L901.2,376.4 L901.8,377.1 L902.4,377.9 L903.1,378.6 L903.7,379.3 L904.3,380.0 L905.0,380.7 L905.6,381.5 L906.3,382.2 L906.9,382.9 L907.5,383.6 L908.2,384.3 L908.8,385.0 L909.5,385.7 L910.1,386.4 L910.7,387.1 L911.4,387.8 L912.0,388.5 L912.6,389.2 L912.6,389.2 M926.3,404.3 L927.0,405.0 L927.7,405.7 L928.4,406.3 L929.0,407.0 L929.7,407.7 L930.4,408.3 L931.2,409.0 L931.9,409.7 L932.6,410.3 L933.3,411.0 L934.0,411.6 L934.8,412.3 L935.5,412.9 L936.2,413.6 L937.0,414.3 L937.7,414.9 L938.4,415.6 L939.1,416.2 L939.8,416.9 L940.6,417.6 L941.3,418.3 L942.0,418.9 L942.6,419.6 L943.3,420.3 L944.0,421.0 L944.7,421.7 L944.7,421.7 M958.3,437.8 L959.0,438.5 L959.7,439.2 L960.4,440.0 L961.1,440.7 L961.8,441.5 L962.5,442.2 L963.2,443.0 L964.0,443.8 L964.7,444.5 L965.4,445.3 L966.2,446.0 L966.9,446.8 L967.7,447.6 L968.4,448.3 L969.2,449.1 L969.9,449.8 L970.7,450.5 L971.4,451.3 L972.2,452.0 L972.9,452.7 L973.6,453.4 L974.4,454.1 L975.1,454.7 L975.8,455.4 L976.5,456.0 L977.2,456.6 L977.9,457.2 L977.9,457.2 M992.8,468.5 L993.5,469.1 L994.3,469.7 L995.1,470.3 L995.9,470.9 L996.7,471.5 L997.6,472.1 L998.4,472.7 L999.3,473.3 L1000.1,473.9 L1001.0,474.6 L1001.9,475.2 L1002.8,475.8 L1003.6,476.5 L1004.5,477.1 L1005.4,477.8 L1006.2,478.4 L1007.1,479.0 L1007.9,479.7 L1008.8,480.3 L1009.6,481.0 L1010.4,481.6 L1011.2,482.2 L1012.0,482.9 L1012.8,483.5 L1012.8,483.5 M1029.0,498.5 L1029.8,499.0 L1030.6,499.6 L1031.5,500.1 L1032.3,500.6 L1033.2,501.0 L1034.1,501.5 L1035.0,502.0 L1035.9,502.4 L1036.8,502.9 L1037.8,503.3 L1038.7,503.8 L1039.6,504.2 L1040.6,504.6 L1041.5,505.1 L1042.4,505.5 L1043.4,506.0 L1044.3,506.4 L1045.2,506.8 L1046.1,507.3 L1046.9,507.8 L1047.8,508.2 L1048.6,508.7 L1049.5,509.2 L1050.2,509.8 L1050.2,509.8 M1066.5,523.5 L1067.3,524.1 L1068.0,524.7 L1068.8,525.3 L1069.7,525.9 L1070.5,526.6 L1071.3,527.2 L1072.2,527.8 L1073.0,528.5 L1073.9,529.1 L1074.8,529.7 L1075.6,530.4 L1076.5,531.0 L1077.4,531.6 L1078.2,532.3 L1079.1,532.9 L1080.0,533.5 L1080.8,534.2 L1081.7,534.8 L1082.5,535.4 L1083.3,536.1 L1084.2,536.7 L1085.0,537.3 L1085.7,537.9 L1086.5,538.5 L1086.5,538.5 M1102.8,552.2 L1103.5,552.9 L1104.3,553.5 L1105.1,554.2 L1105.9,554.9 L1106.7,555.5 L1107.5,556.2 L1108.4,556.9 L1109.2,557.6 L1110.1,558.3 L1110.9,559.0 L1111.8,559.7 L1112.7,560.5 L1113.5,561.2 L1114.4,561.9 L1115.3,562.6 L1116.1,563.3 L1117.0,564.0 L1117.8,564.6 L1118.7,565.3 L1119.5,566.0 L1120.3,566.6 L1121.2,567.3 L1122.0,567.9 L1122.8,568.5 L1122.8,568.5 M1140.2,581.0 L1141.0,581.6 L1141.8,582.1 L1142.5,582.7 L1143.3,583.2 L1144.1,583.8 L1144.8,584.4 L1145.6,585.0 L1146.4,585.5 L1147.2,586.1 L1148.0,586.7 L1148.8,587.3 L1149.5,587.9 L1150.3,588.5 L1151.1,589.1 L1151.9,589.6 L1152.7,590.2 L1153.5,590.8 L1154.3,591.4 L1155.1,592.0 L1155.9,592.5 L1156.6,593.1 L1157.4,593.7 L1158.2,594.2 L1159.0,594.8 L1159.0,594.8 M1177.8,607.0 L1178.6,607.5 L1179.4,608.1 L1180.2,608.6 L1181.1,609.2 L1181.9,609.7 L1182.8,610.3 L1183.6,610.9 L1184.5,611.4 L1185.3,612.0 L1186.2,612.6 L1187.0,613.1 L1187.9,613.7 L1188.8,614.3 L1189.6,614.9 L1190.5,615.4 L1191.3,616.0 L1192.2,616.6 L1193.0,617.2 L1193.8,617.8 L1194.6,618.4 L1195.4,619.0 L1196.2,619.6 L1197.0,620.2 L1197.8,620.8 L1197.8,620.8 M1214.0,635.8 L1214.8,636.3 L1215.6,636.9 L1216.4,637.4 L1217.3,638.0 L1218.2,638.5 L1219.0,639.1 L1219.9,639.6 L1220.9,640.1 L1221.8,640.7 L1222.7,641.2 L1223.6,641.7 L1224.5,642.2 L1225.5,642.7 L1226.4,643.3 L1227.3,643.8 L1228.3,644.3 L1229.2,644.8 L1230.1,645.3 L1231.0,645.8 L1231.9,646.3 L1232.7,646.8 L1233.6,647.3 L1234.4,647.8 L1235.2,648.2 L1235.2,648.2 M1252.8,659.5 L1253.6,660.0 L1254.4,660.5 L1255.2,661.0 L1256.1,661.5 L1257.0,662.0 L1257.9,662.5 L1258.7,663.1 L1259.6,663.6 L1260.6,664.1 L1261.5,664.6 L1262.4,665.1 L1263.3,665.7 L1264.2,666.2 L1265.1,666.7 L1266.0,667.3 L1267.0,667.8 L1267.9,668.3 L1268.8,668.8 L1269.7,669.4 L1270.6,669.9 L1271.4,670.4 L1272.3,671.0 L1273.2,671.5 L1274.0,672.0 L1274.0,672.0 M1292.8,684.5 L1293.6,685.0 L1294.4,685.5 L1295.3,686.1 L1296.2,686.6 L1297.0,687.1 L1297.9,687.7 L1298.8,688.2 L1299.7,688.8 L1300.6,689.3 L1301.5,689.8 L1302.4,690.4 L1303.3,690.9 L1304.2,691.4 L1305.1,692.0 L1306.0,692.5 L1307.0,693.0 L1307.9,693.5 L1308.8,694.1 L1309.6,694.6 L1310.5,695.1 L1311.4,695.6 L1312.3,696.0 L1313.1,696.5 L1314.0,697.0 L1314.0,697.0 M1333.5,707.0 L1334.4,707.5 L1335.2,708.0 L1336.1,708.5 L1336.9,709.0 L1337.8,709.5 L1338.7,710.0 L1339.6,710.6 L1340.5,711.1 L1341.3,711.7 L1342.2,712.2 L1343.1,712.8 L1344.0,713.3 L1344.9,713.9 L1345.8,714.4 L1346.7,715.0 L1347.6,715.5 L1348.5,716.1 L1349.4,716.6 L1350.3,717.1 L1351.2,717.6 L1352.1,718.1 L1353.0,718.6 L1353.9,719.0 L1354.8,719.5 L1354.8,719.5 M1376.0,728.2 L1376.9,728.6 L1377.7,729.0 L1378.6,729.4 L1379.4,729.8 L1380.2,730.3 L1381.1,730.7 L1381.9,731.1 L1382.7,731.5 L1383.5,731.9 L1384.4,732.3 L1385.2,732.7 L1386.0,733.2 L1386.8,733.6 L1387.6,734.0 L1388.5,734.4 L1389.3,734.9 L1390.1,735.3 L1390.9,735.7 L1391.8,736.1 L1392.6,736.6 L1393.4,737.0 L1394.3,737.4 L1395.1,737.8 L1396.0,738.2 L1396.0,738.2 M1417.2,748.2 L1418.1,748.6 L1419.0,749.0 L1419.9,749.4 L1420.8,749.8 L1421.7,750.2 L1422.6,750.5 L1423.5,750.9 L1424.4,751.3 L1425.3,751.6 L1426.2,752.0 L1427.1,752.3 L1428.0,752.7 L1428.8,753.1 L1429.7,753.4 L1430.6,753.8 L1431.5,754.1 L1432.4,754.5 L1433.3,754.8 L1434.2,755.2 L1435.0,755.6 L1435.9,755.9 L1436.8,756.3 L1437.6,756.6 L1438.5,757.0 L1438.5,757.0 M1458.5,765.8 L1459.4,766.1 L1460.3,766.4 L1461.2,766.6 L1462.1,766.9 L1463.1,767.2 L1464.0,767.4 L1465.0,767.7 L1465.9,767.9 L1466.9,768.2 L1467.8,768.4 L1468.8,768.6 L1469.8,768.9 L1470.7,769.1 L1471.7,769.3 L1472.6,769.6 L1473.6,769.8 L1474.5,770.1 L1475.5,770.3 L1476.4,770.6 L1477.4,770.8 L1478.3,771.1 L1479.2,771.4 L1480.1,771.7 L1481.0,772.0 L1481.0,772.0 M1501.0,780.8 L1501.9,781.1 L1502.8,781.4 L1503.7,781.8 L1504.6,782.1 L1505.6,782.4 L1506.5,782.7 L1507.5,783.1 L1508.4,783.4 L1509.4,783.7 L1510.3,784.0 L1511.3,784.3 L1512.2,784.7 L1513.2,785.0 L1514.2,785.3 L1515.1,785.6 L1516.1,785.9 L1517.0,786.2 L1518.0,786.5 L1518.9,786.8 L1519.9,787.1 L1520.8,787.4 L1521.7,787.7 L1522.6,788.0 L1523.5,788.2 L1523.5,788.2 M1543.5,794.5 L1544.4,794.8 L1545.4,795.0 L1546.3,795.3 L1547.3,795.5 L1548.3,795.8 L1549.3,796.1 L1550.3,796.3 L1551.3,796.6 L1552.3,796.8 L1553.3,797.1 L1554.3,797.4 L1555.4,797.6 L1556.4,797.9 L1557.4,798.1 L1558.5,798.4 L1559.5,798.7 L1560.5,798.9 L1561.5,799.2 L1562.5,799.4 L1563.5,799.7 L1564.4,800.0 L1565.4,800.2 L1566.3,800.5 L1567.2,800.8 L1567.2,800.8 M1587.2,807.0 L1588.2,807.2 L1589.1,807.5 L1590.1,807.7 L1591.0,807.9 L1592.0,808.1 L1593.0,808.3 L1594.0,808.5 L1595.0,808.7 L1596.0,808.9 L1597.1,809.1 L1598.1,809.3 L1599.1,809.5 L1600.2,809.7 L1601.2,809.9 L1602.2,810.1 L1603.2,810.3 L1604.2,810.5 L1605.2,810.7 L1606.2,810.9 L1607.2,811.1 L1608.2,811.3 L1609.1,811.5 L1610.1,811.8 L1611.0,812.0 L1611.0,812.0 M1631.0,818.2 L1632.0,818.5 L1633.0,818.8 L1634.1,819.1 L1635.2,819.4 L1636.3,819.7 L1637.5,820.0 L1638.7,820.3 L1639.9,820.6 L1641.1,820.9 L1642.3,821.2 L1643.5,821.5 L1644.8,821.8 L1645.9,822.1 L1647.1,822.3 L1648.2,822.6 L1649.3,822.9 L1650.4,823.1 L1651.4,823.4 L1652.3,823.6 L1653.2,823.8 L1654.0,824.0 L1654.8,824.2 L1655.4,824.4 L1656.0,824.5" fill="none" stroke="#ffd214" stroke-width="6.4"/>
<path d="M90.0,282.4 C92.0,279.0 98.0,268.9 101.9,262.2 C105.9,255.4 110.0,247.2 113.7,241.9 C117.4,236.6 120.2,234.9 123.9,230.1 C127.6,225.3 131.8,217.7 135.7,213.0 C139.6,208.3 143.9,206.8 147.5,202.0 C151.1,197.2 153.3,189.7 157.0,184.5 C160.7,179.3 165.7,175.4 169.5,170.9 C173.3,166.4 175.7,162.5 179.6,157.4 C183.5,152.3 188.6,144.9 193.1,140.5 C197.6,136.1 202.6,133.8 206.6,131.0 C210.6,128.2 213.1,126.1 216.8,124.0 C220.5,121.9 224.1,120.1 228.6,118.6 C233.1,117.1 239.0,115.5 243.8,115.2 C248.6,114.9 253.6,115.7 257.3,116.9 C261.0,118.1 262.2,120.6 266.0,122.5 C269.8,124.4 274.3,125.5 280.0,128.5 C285.7,131.5 293.7,135.6 300.0,140.6 C306.3,145.6 311.8,151.9 317.7,158.4 C323.6,164.9 329.6,171.9 335.5,179.6 C341.4,187.3 347.3,196.2 353.2,204.5 C359.1,212.8 365.0,221.0 370.9,229.3 C376.8,237.6 382.8,246.4 388.7,254.1 C394.6,261.8 400.5,268.3 406.4,275.4 C412.3,282.5 418.2,289.9 424.1,296.7 C430.0,303.5 435.9,310.6 441.8,316.2 C447.7,321.8 454.9,326.7 459.6,330.4 C464.3,334.1 466.6,336.1 470.0,338.5 C473.4,340.9 475.0,343.1 480.0,344.8 C485.0,346.4 494.7,347.7 500.0,348.5 C505.3,349.3 505.8,350.6 512.0,349.8 C518.2,348.9 528.7,346.5 537.0,343.5 C545.3,340.5 553.7,335.8 562.0,332.0 C570.3,328.2 579.8,323.5 587.0,320.5 C594.2,317.5 598.5,315.5 605.0,314.0 C611.5,312.5 619.3,311.6 626.0,311.5 C632.7,311.4 637.9,310.8 645.3,313.2 C652.7,315.6 662.1,320.8 670.6,325.8 C679.1,330.9 688.4,337.6 696.0,343.5 C703.6,349.4 711.2,356.7 716.2,361.3 C721.2,365.9 721.2,366.3 726.3,371.4 C731.4,376.4 739.0,384.0 746.6,391.6 C754.2,399.2 763.5,408.6 771.9,417.0 C780.3,425.4 790.9,436.0 797.2,442.3 C803.5,448.6 803.6,448.2 809.9,455.0 C816.2,461.8 826.5,472.6 835.2,482.8 C843.9,493.0 853.9,505.6 862.0,516.0 C870.1,526.4 876.1,535.0 883.6,544.9 C891.1,554.8 899.4,565.8 907.3,575.6 C915.2,585.5 923.0,595.3 930.9,604.0 C938.8,612.7 946.7,619.8 954.6,627.7 C962.5,635.6 970.3,643.8 978.2,651.3 C986.1,658.8 993.9,665.9 1001.8,672.6 C1009.7,679.3 1017.6,685.2 1025.5,691.5 C1033.4,697.8 1041.2,704.5 1049.1,710.4 C1057.0,716.3 1064.9,721.9 1072.8,727.0 C1080.7,732.1 1088.5,736.0 1096.4,741.1 C1104.3,746.2 1112.1,752.6 1120.0,757.7 C1127.9,762.8 1134.1,765.9 1144.0,771.5 C1153.9,777.1 1168.6,784.6 1179.4,791.2 C1190.2,797.8 1199.1,805.0 1208.9,810.9 C1218.7,816.8 1228.6,821.7 1238.4,826.6 C1248.2,831.5 1258.2,835.8 1268.0,840.4 C1277.8,845.0 1287.7,849.6 1297.5,854.2 C1307.3,858.8 1317.2,863.4 1327.0,868.0 C1336.8,872.6 1346.7,877.5 1356.5,881.7 C1366.3,886.0 1376.2,889.9 1386.0,893.5 C1395.8,897.1 1405.8,900.4 1415.6,903.4 C1425.4,906.4 1434.4,908.9 1445.1,911.8 C1455.8,914.7 1471.5,918.5 1480.0,921.0 C1488.5,923.5 1489.2,924.3 1496.0,926.5 C1502.8,928.7 1512.7,932.1 1521.0,934.0 C1529.3,935.9 1537.7,936.7 1546.0,937.8 C1554.3,938.8 1562.7,939.4 1571.0,940.2 C1579.3,941.1 1587.7,943.2 1596.0,942.8 C1604.3,942.3 1614.8,937.5 1621.0,937.8 C1627.2,938.0 1628.5,941.9 1633.5,944.0 C1638.5,946.1 1645.2,948.8 1651.0,950.2 C1656.8,951.7 1665.6,952.3 1668.5,952.8" fill="none" stroke="#fca07c" stroke-width="6" stroke-linejoin="round"/>
<path d="M90.0,657.6 C93.4,656.3 102.8,652.7 110.5,649.9 C118.2,647.1 129.2,643.3 136.0,641.0 C142.8,638.7 145.9,638.4 151.2,635.9 C156.5,633.4 161.9,628.2 167.8,625.7 C173.8,623.2 180.5,621.9 186.9,620.6 C193.3,619.3 200.7,619.4 206.0,618.1 C211.3,616.8 213.9,615.5 218.8,613.0 C223.7,610.5 230.4,606.8 235.3,602.8 C240.2,598.8 243.4,592.1 248.1,588.8 C252.8,585.5 257.6,584.8 263.3,583.1 C269.0,581.4 275.5,580.8 282.5,578.6 C289.5,576.4 297.2,572.6 305.1,569.7 C313.0,566.8 321.7,563.7 330.0,561.0 C338.3,558.3 346.7,556.8 355.0,553.5 C363.3,550.2 372.5,543.5 380.0,541.0 C387.5,538.5 393.8,538.1 400.0,538.5 C406.2,538.9 410.4,541.0 417.5,543.5 C424.6,546.0 434.2,549.3 442.5,553.5 C450.8,557.7 458.5,563.5 467.5,568.5 C476.5,573.5 487.2,580.2 496.3,583.3 C505.4,586.4 513.2,586.4 522.2,587.0 C531.2,587.6 542.0,587.6 550.0,587.0 C558.0,586.4 562.7,586.1 570.4,583.3 C578.1,580.5 588.0,575.8 596.3,570.4 C604.6,565.0 611.8,558.1 620.0,551.1 C628.2,544.1 637.7,537.2 645.3,528.4 C652.9,519.5 659.3,509.0 665.6,498.0 C671.9,487.0 678.2,473.5 683.3,462.5 C688.4,451.5 690.9,442.8 696.0,432.2 C701.1,421.6 708.2,409.8 713.7,399.2 C719.2,388.6 723.4,378.6 728.9,368.9 C734.4,359.2 741.1,349.9 746.6,341.0 C752.1,332.1 756.3,322.4 761.8,315.7 C767.3,308.9 772.8,305.6 779.5,300.5 C786.2,295.4 793.0,287.6 802.3,285.3 C811.6,283.0 825.5,287.2 835.2,286.6 C844.9,286.0 849.7,283.2 860.5,281.5 C871.3,279.8 886.1,278.1 900.0,276.5 C913.9,274.9 932.5,273.1 944.0,272.0 C955.5,270.9 960.7,270.8 969.0,270.0 C977.3,269.2 986.5,267.6 994.0,267.0 C1001.5,266.4 1006.3,266.0 1014.0,266.5 C1021.7,267.0 1029.6,267.3 1040.0,269.8 C1050.4,272.3 1064.3,276.8 1076.5,281.6 C1088.7,286.4 1100.8,293.7 1112.9,298.6 C1125.1,303.5 1137.2,306.8 1149.4,310.8 C1161.6,314.9 1173.7,318.4 1185.8,322.9 C1197.9,327.3 1210.1,332.6 1222.3,337.5 C1234.5,342.4 1246.6,347.2 1258.8,352.1 C1271.0,357.0 1283.0,361.4 1295.2,366.7 C1307.4,372.0 1321.6,378.8 1331.7,383.7 C1341.8,388.6 1345.9,390.9 1356.0,395.8 C1366.1,400.7 1380.3,407.6 1392.5,412.9 C1404.7,418.2 1417.7,421.7 1428.9,427.4 C1440.2,433.1 1452.7,442.0 1460.0,446.9 C1467.3,451.8 1466.8,451.8 1472.8,456.7 C1478.8,461.6 1488.0,469.9 1496.0,476.0 C1504.0,482.1 1513.7,488.2 1521.0,493.5 C1528.3,498.8 1534.0,503.0 1540.0,507.5 C1546.0,512.0 1551.3,516.1 1556.9,520.5 C1562.5,524.9 1568.2,528.8 1573.8,533.8 C1579.4,538.8 1585.0,544.3 1590.6,550.6 C1596.2,556.9 1602.6,565.9 1607.5,571.7 C1612.4,577.5 1617.0,581.0 1620.2,585.5 C1623.5,590.0 1624.7,593.4 1627.0,598.5 C1629.3,603.6 1631.5,610.2 1634.3,616.0 C1637.1,621.8 1640.3,627.1 1644.0,633.1 C1647.7,639.1 1652.6,646.3 1656.7,652.0 C1660.8,657.7 1666.5,664.9 1668.5,667.5" fill="none" stroke="#fd9e30" stroke-width="6" stroke-linejoin="round"/>
<text transform="translate(341.35,109.27) scale(0.9756,0.9628)" font-size="45" font-weight="normal" stroke="#fca07c" stroke-width="1.6" stroke-linejoin="round" letter-spacing="2.2" fill="#fca07c">pink detail</text>
<text transform="translate(341.05,163.80) scale(0.9524,0.9938)" font-size="45" font-weight="normal" fill="#fca07c">λ</text>
<text transform="translate(367.50,171.51) scale(1.1023,0.9882)" font-size="27" font-weight="normal" stroke="#fca07c" stroke-width="1.1" stroke-linejoin="round" letter-spacing="1" fill="#fca07c">exc</text>
<text transform="translate(429.01,162.43) scale(0.9893,0.9697)" font-size="45" font-weight="normal" stroke="#fca07c" stroke-width="1.6" stroke-linejoin="round" letter-spacing="0.6" fill="#fca07c">365 nm</text>
<text transform="translate(723.33,107.35) scale(0.9579,0.9545)" font-size="45" font-weight="normal" stroke="#ffd214" stroke-width="1.6" stroke-linejoin="round" letter-spacing="0.6" fill="#ffd214">PY139</text>
<text transform="translate(983.66,175.74) scale(0.9688,0.9256)" font-size="45" font-weight="normal" stroke="#fd9e30" stroke-width="1.6" stroke-linejoin="round" letter-spacing="2.2" fill="#fd9e30">pink detail</text>
<text transform="translate(982.50,231.50) scale(1.0000,1.0156)" font-size="45" font-weight="normal" fill="#fd9e30">λ</text>
<text transform="translate(1008.58,239.55) scale(1.1233,0.9529)" font-size="27" font-weight="normal" stroke="#fd9e30" stroke-width="1.1" stroke-linejoin="round" letter-spacing="1" fill="#fd9e30">exc</text>
<text transform="translate(1069.20,229.35) scale(1.0093,0.9485)" font-size="45" font-weight="normal" stroke="#fd9e30" stroke-width="1.6" stroke-linejoin="round" letter-spacing="0.6" fill="#fd9e30">435 nm</text>
<text transform="translate(1072.60,402.02) scale(0.9319,0.9848)" font-size="45" font-weight="normal" stroke="#fd4416" stroke-width="1.6" stroke-linejoin="round" letter-spacing="0.6" fill="#fd4416">PO43</text>
<text transform="translate(130.09,1092.70) scale(0.9244,1.0069)" font-size="42" font-weight="normal" stroke="#1e1e1e" stroke-width="0.7" stroke-linejoin="round" fill="#1e1e1e">500</text>
<text transform="translate(511.64,1092.70) scale(0.9244,1.0069)" font-size="42" font-weight="normal" stroke="#1e1e1e" stroke-width="0.7" stroke-linejoin="round" fill="#1e1e1e">550</text>
<text transform="translate(890.18,1092.70) scale(0.9244,1.0069)" font-size="42" font-weight="normal" stroke="#1e1e1e" stroke-width="0.7" stroke-linejoin="round" fill="#1e1e1e">600</text>
<text transform="translate(1270.68,1092.70) scale(0.9244,1.0069)" font-size="42" font-weight="normal" stroke="#1e1e1e" stroke-width="0.7" stroke-linejoin="round" fill="#1e1e1e">650</text>
<text transform="translate(1650.38,1092.70) scale(0.9244,1.0069)" font-size="42" font-weight="normal" stroke="#1e1e1e" stroke-width="0.7" stroke-linejoin="round" fill="#1e1e1e">700</text>
<text transform="translate(757.20,1154.17) scale(0.9826,1.0146)" font-size="44" font-weight="normal" stroke="#1e1e1e" stroke-width="0.7" stroke-linejoin="round" fill="#1e1e1e">Wavelength</text>
<text transform="translate(1004.78,1153.50) scale(1.0105,1.0000)" font-size="44" font-weight="normal" stroke="#1e1e1e" stroke-width="0.7" stroke-linejoin="round" fill="#1e1e1e">(nm)</text>
<text transform="translate(57.04,710.70) rotate(-90) scale(0.9660,0.9659)" font-size="46" font-weight="normal" stroke="#1e1e1e" stroke-width="0.7" stroke-linejoin="round" fill="#1e1e1e">Emission intensity</text>
</g>
</svg>
</body></html>
